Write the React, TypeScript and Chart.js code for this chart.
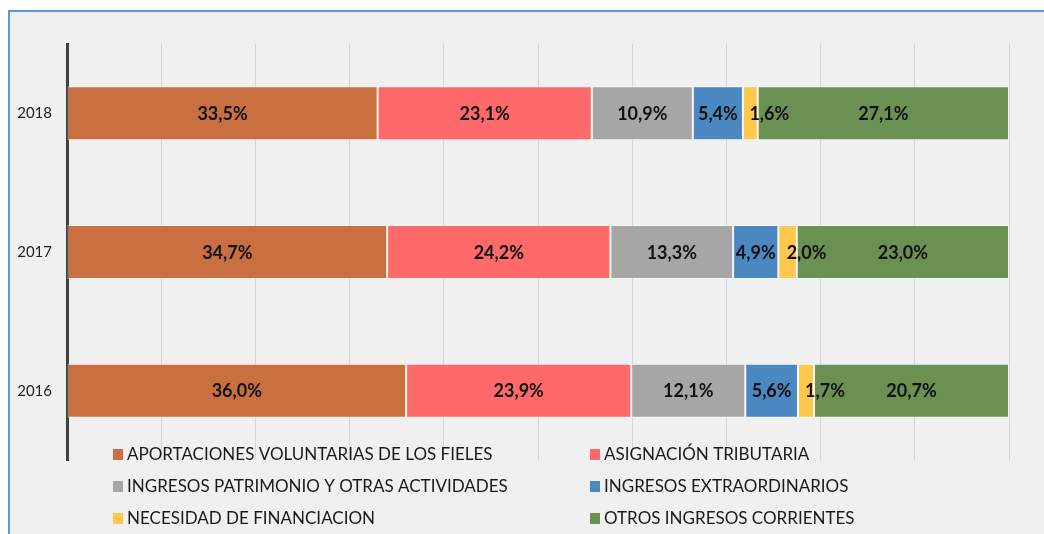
import React, { useEffect, useRef } from "react";
import { Chart, registerables } from "chart.js";

Chart.register(...registerables);

const YEARS = ["2018", "2017", "2016"];
const SERIES_NAMES = [
  "APORTACIONES VOLUNTARIAS DE LOS FIELES",
  "ASIGNACIÓN TRIBUTARIA",
  "INGRESOS PATRIMONIO Y OTRAS ACTIVIDADES",
  "INGRESOS EXTRAORDINARIOS",
  "NECESIDAD DE FINANCIACION",
  "OTROS INGRESOS CORRIENTES",
];
const APORTACIONES = [33.5, 34.7, 36.0];
const ASIGNACION = [23.1, 24.2, 23.9];
const PATRIMONIO = [10.9, 13.3, 12.1];
const EXTRAORDINARIOS = [5.4, 4.9, 5.6];
const NECESIDAD = [1.6, 2.0, 1.7];
const OTROS = [27.1, 23.0, 20.7];
const X_MAX = 100;
const X_STEP = 10;

const SERIES = [APORTACIONES, ASIGNACION, PATRIMONIO, EXTRAORDINARIOS, NECESIDAD, OTROS];
const COLORS = ["#C96F40", "#FF6969", "#A6A6A6", "#4B87C1", "#FFC84A", "#6A9052"];
const LABEL_OFFSETS = [0, 0, 0, 0, 19, 0];

const FONT = 'Lato, "Open Sans", "DejaVu Sans", sans-serif';

const fmt = (v: number) => v.toFixed(1).replace(".", ",") + "%";

const labelPlugin = {
  id: "segLabels",
  afterDraw(chart: any) {
    const ctx = chart.ctx;
    ctx.save();
    ctx.font = `bold 18px ${FONT}`;
    ctx.fillStyle = "#111111";
    ctx.textAlign = "center";
    ctx.textBaseline = "middle";
    chart.data.datasets.forEach((ds: any, di: number) => {
      const meta = chart.getDatasetMeta(di);
      meta.data.forEach((bar: any, i: number) => {
        const p = bar.getProps(["x", "y", "base"], true);
        const cx = (p.x + p.base) / 2 + (ds.labelOffset || 0);
        ctx.fillText(fmt(ds.rawValues[i]), cx, p.y + 1);
      });
    });
    ctx.restore();
  },
};

const legendPlugin = {
  id: "customLegend",
  afterDraw(chart: any) {
    const ctx = chart.ctx;
    ctx.save();
    ctx.font = `17px ${FONT}`;
    ctx.textBaseline = "middle";
    ctx.textAlign = "left";
    const colX = [103, 580];
    const rowY = [443, 475, 507];
    chart.data.datasets.forEach((ds: any, i: number) => {
      const x = colX[i % 2];
      const y = rowY[Math.floor(i / 2)];
      ctx.fillStyle = ds.backgroundColor;
      ctx.fillRect(x, y - 6, 10, 11);
      ctx.fillStyle = "#1a1a1a";
      ctx.fillText(ds.label, x + 14, y);
    });
    ctx.restore();
  },
};

export default function App() {
  const ref = useRef<HTMLCanvasElement>(null);

  useEffect(() => {
    if (!ref.current) return;
    const totals = YEARS.map((_, i) => SERIES.reduce((s, arr) => s + arr[i], 0));
    const datasets = SERIES.map((arr, si) => ({
      label: SERIES_NAMES[si],
      data: arr.map((v, i) => (v / totals[i]) * X_MAX),
      rawValues: arr,
      labelOffset: LABEL_OFFSETS[si],
      backgroundColor: COLORS[si],
      borderColor: "rgba(255,255,255,0.55)",
      borderWidth: 1,
      borderSkipped: false,
      categoryPercentage: 1,
      barPercentage: 0.39,
    }));
    const chart = new Chart(ref.current, {
      type: "bar",
      data: { labels: YEARS, datasets },
      options: {
        indexAxis: "y",
        animation: false,
        responsive: true,
        maintainAspectRatio: false,
        layout: { padding: { top: 32, right: 35, bottom: 74, left: 0 } },
        plugins: { legend: { display: false }, tooltip: { enabled: false } },
        scales: {
          x: {
            stacked: true,
            min: 0,
            max: X_MAX,
            z: 1,
            ticks: { display: false, stepSize: X_STEP },
            grid: { color: "rgba(0,0,0,0.11)", lineWidth: 1, drawTicks: false },
            border: { display: false },
          },
          y: {
            stacked: true,
            z: 1,
            afterFit: (scale: any) => {
              scale.width = 57;
            },
            grid: { display: false, drawTicks: false },
            border: { display: true, color: "#404040", width: 3 },
            ticks: {
              padding: 15,
              color: "#222222",
              font: { family: FONT, size: 15 },
            },
          },
        },
      } as any,
      plugins: [labelPlugin, legendPlugin],
    });
    return () => chart.destroy();
  }, []);

  return (
    <div
      style={{
        position: "fixed",
        left: 8,
        top: 10,
        width: 1036,
        height: 524,
        boxSizing: "border-box",
        borderTop: "2px solid #5B9BD5",
        borderLeft: "2px solid #5B9BD5",
        background: "#F0F0F0",
      }}
    >
      <div style={{ position: "relative", width: "100%", height: "100%" }}>
        <canvas ref={ref} />
      </div>
    </div>
  );
}
